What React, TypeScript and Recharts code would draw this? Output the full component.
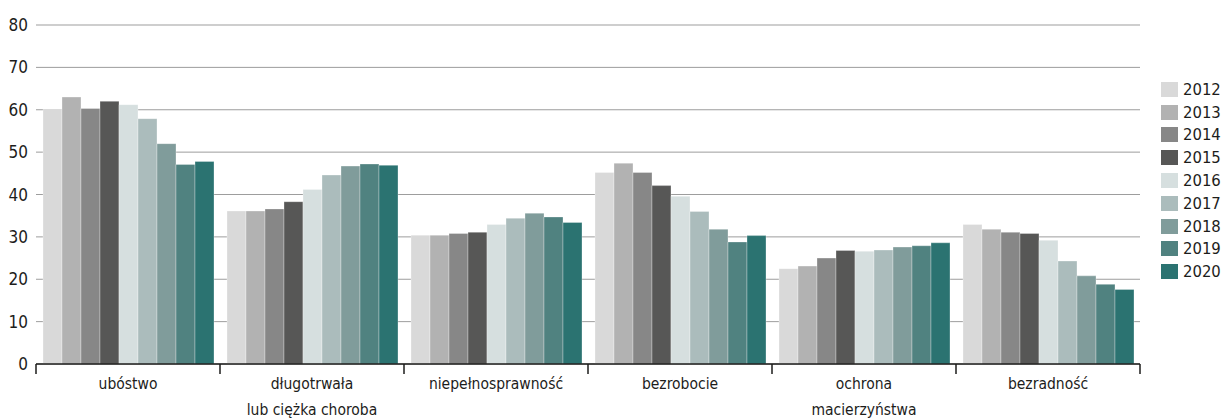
import { Bar, BarChart, CartesianGrid, XAxis, YAxis } from 'recharts';

const categories = ['ubóstwo', 'długotrwała\nlub ciężka choroba', 'niepełnosprawność', 'bezrobocie', 'ochrona\nmacierzyństwa', 'bezradność'];
const years = ['2012', '2013', '2014', '2015', '2016', '2017', '2018', '2019', '2020'];
const colors = ['#d9d9d9', '#b2b2b2', '#878787', '#575756', '#d6dfdf', '#abbcbc', '#809c9b', '#508280', '#2b7371'];

// one array per category, values by year 2012..2020
const ubostwo = [60.1, 63.0, 60.3, 62.0, 61.2, 57.9, 52.0, 47.1, 47.8];
const choroba = [36.1, 36.1, 36.6, 38.3, 41.2, 44.6, 46.7, 47.2, 46.9];
const niepelnosprawnosc = [30.4, 30.4, 30.8, 31.1, 32.9, 34.4, 35.6, 34.7, 33.4];
const bezrobocie = [45.2, 47.4, 45.2, 42.1, 39.6, 36.0, 31.8, 28.8, 30.3];
const macierzynstwo = [22.5, 23.1, 25.0, 26.8, 26.6, 26.9, 27.6, 27.9, 28.6];
const bezradnosc = [32.9, 31.8, 31.1, 30.8, 29.2, 24.3, 20.8, 18.8, 17.6];
const yTicks = [0, 10, 20, 30, 40, 50, 60, 70, 80];

const seriesByCategory = [ubostwo, choroba, niepelnosprawnosc, bezrobocie, macierzynstwo, bezradnosc];
const data = categories.map((name, i) => {
  const row: Record<string, string | number> = { name };
  years.forEach((y, j) => { row[y] = seriesByCategory[i][j]; });
  return row;
});

const W = 1221;
const H = 419;
const LEFT = 36;
const RIGHT = 81;
const FONT = '"DejaVu Sans Condensed", "Liberation Sans Narrow", sans-serif';
const FS = 15.5;
const halfBand = (W - LEFT - RIGHT) / categories.length / 2;

const CategoryTick = (props: any) => {
  const { x, y, payload, index } = props;
  const lines = String(payload.value).split('\n');
  const isLast = index === categories.length - 1;
  return (
    <g>
      <line x1={x - halfBand} x2={x - halfBand} y1={y - 8} y2={y + 2} stroke="#1d1d1b" strokeWidth={1.5} />
      {isLast && <line x1={x + halfBand} x2={x + halfBand} y1={y - 8} y2={y + 2} stroke="#1d1d1b" strokeWidth={1.5} />}
      {lines.map((l, i) => (
        <text key={i} x={x} y={y + 17 + i * 26} textAnchor="middle" fill="#1d1d1b" fontSize={FS} fontFamily={FONT}>{l}</text>
      ))}
    </g>
  );
};

const YearLegend = () => (
  <div style={{ position: 'absolute', left: 1161, top: 78, fontFamily: FONT, fontSize: 16.5, color: '#1d1d1b' }}>
    {years.map((y, i) => (
      <div key={y} style={{ display: 'flex', alignItems: 'center', height: 22.8 }}>
        <span style={{ display: 'inline-block', width: 17, height: 15, background: colors[i], marginRight: 5 }} />
        <span>{y}</span>
      </div>
    ))}
  </div>
);

export default function App() {
  return (
    <div style={{ position: 'absolute', left: 0, top: 0, width: W, height: H, background: '#fff' }}>
      <BarChart width={W} height={H} data={data} margin={{ top: 25, right: RIGHT, bottom: 0, left: 0 }} barCategoryGap={7} barGap={0}>
        <CartesianGrid vertical={false} stroke="#9d9d9d" strokeWidth={1} />
        <XAxis dataKey="name" interval={0} height={55} tickLine={false} axisLine={{ stroke: '#1d1d1b', strokeWidth: 1.5 }} tick={<CategoryTick />} />
        <YAxis width={LEFT} domain={[0, 80]} ticks={yTicks} interval={0} axisLine={false} tickLine={false} tickMargin={2}
          tick={{ fill: '#1d1d1b', fontSize: 17, fontFamily: FONT }} />
        {years.map((y, i) => (
          <Bar key={y} dataKey={y} fill={colors[i]} stroke="#ffffff" strokeOpacity={0.5} strokeWidth={0.6} isAnimationActive={false} />
        ))}
      </BarChart>
      <YearLegend />
    </div>
  );
}
